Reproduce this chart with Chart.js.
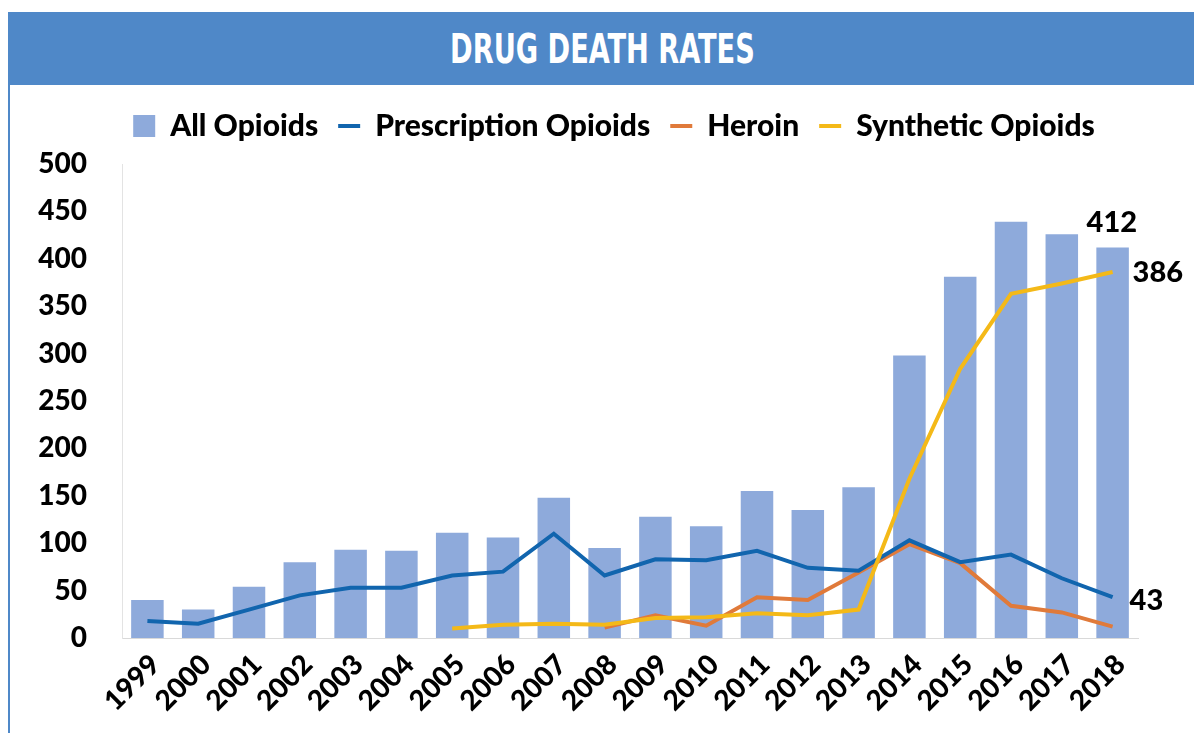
<!DOCTYPE html>
<html>
<head>
<meta charset="utf-8">
<script src="https://cdn.jsdelivr.net/npm/chart.js@4/dist/chart.umd.min.js"></script>
<style>
  html,body{margin:0;padding:0;background:#fff;}
  body{width:1194px;height:733px;position:relative;overflow:hidden;}
  #frame{position:absolute;left:8px;top:12px;right:0;bottom:0;border-left:2px solid #4f88c8;}
  #head{height:73px;background:#4f88c8;display:flex;align-items:center;justify-content:center;}
  #head span{color:#fff;font-family:'DejaVu Sans Condensed','Liberation Sans',sans-serif;font-weight:bold;font-size:41px;display:inline-block;white-space:nowrap;transform-origin:center;}
  #wrap{position:absolute;left:2px;top:73px;right:0;bottom:0;}
</style>
</head>
<body>
<div id="frame">
  <div id="head"><span id="title">DRUG DEATH RATES</span></div>
  <div id="wrap"><canvas id="c"></canvas></div>
</div>
<script>
// values
var years=['1999','2000','2001','2002','2003','2004','2005','2006','2007','2008','2009','2010','2011','2012','2013','2014','2015','2016','2017','2018'];
var allOpioids=[40,30,54,80,93,92,111,106,148,95,128,118,155,135,159,298,381,439,426,412];
var prescription=[18,15,30,45,53,53,66,70,110,66,83,82,92,74,71,103,80,88,63,43];
var heroin=[null,null,null,null,null,null,null,null,null,11,24,13,43,40,69,99,79,34,27,12];
var synthetic=[null,null,null,null,null,null,10,14,15,14,21,22,26,24,30,168,284,363,374,386];
var yTicks=[0,50,100,150,200,250,300,350,400,450,500];

// squeeze the heading into the narrow width it has in the picture
var t=document.getElementById('title');
t.style.transform='scaleX('+(305/t.offsetWidth).toFixed(3)+')';

var font="Lato, 'Open Sans', sans-serif";

// end labels: 412 above last bar, 386 / 43 right of lines
var endLabels={
  id:'endLabels',
  afterDatasetsDraw:function(chart){
    var c=chart.ctx, last=years.length-1;
    c.save();
    c.fillStyle='#000';
    c.font='900 29px '+font;
    c.textBaseline='middle';
    c.textAlign='left';
    var b=chart.getDatasetMeta(0).data[last];
    c.fillText(allOpioids[last],b.x-26,b.y-25);
    var s=chart.getDatasetMeta(3).data[last];
    c.fillText(synthetic[last],s.x+20,s.y+1);
    var p=chart.getDatasetMeta(1).data[last];
    c.fillText(prescription[last],p.x+17,p.y+3);
    c.restore();
  }
};

// empty axes only used to hold space (gap under legend, room for end labels)
function spacer(pos,size){
  return {type:'category',labels:years,position:pos,display:true,grid:{display:false},border:{display:false},ticks:{display:false},
    afterFit:function(s){if(pos==='top')s.height=size;else s.width=size;}};
}

function line(label,data,color,order){
  return {type:'line',label:label,data:data,xAxisID:'x',yAxisID:'y',borderColor:color,backgroundColor:color,borderWidth:4,pointRadius:0,tension:0,pointStyle:'line',order:order};
}

new Chart(document.getElementById('c').getContext('2d'),{
  type:'bar',
  data:{labels:years,datasets:[
    {type:'bar',label:'All Opioids',data:allOpioids,xAxisID:'x',yAxisID:'y',backgroundColor:'#8eaadb',categoryPercentage:1,barPercentage:0.64,pointStyle:'rect',order:4},
    line('Prescription Opioids',prescription,'#1165ae',1),
    line('Heroin',heroin,'#e07a3a',2),
    line('Synthetic Opioids',synthetic,'#f4b918',0)
  ]},
  options:{
    responsive:true,maintainAspectRatio:false,animation:false,
    layout:{padding:{top:6,right:0,bottom:0,left:22}},
    plugins:{
      legend:{position:'top',labels:{usePointStyle:true,pointStyleWidth:22,boxHeight:22,padding:20,color:'#000',
        font:{family:font,size:30,weight:'900'},
        sort:function(a,b){return a.datasetIndex-b.datasetIndex;}}},
      tooltip:{enabled:false}
    },
    scales:{
      x:{grid:{display:false},border:{color:'#d9d9d9'},
        ticks:{color:'#000',font:{family:font,size:28,weight:'900'},maxRotation:45,minRotation:45,padding:2,labelOffset:8,autoSkip:false},
        afterFit:function(s){s.height=95;}},
      y:{min:0,max:500,grid:{display:false},border:{color:'#e3e3e3'},
        afterBuildTicks:function(s){s.ticks=yTicks.map(function(v){return {value:v};});},
        ticks:{color:'#000',font:{family:font,size:28,weight:'900'},padding:27},
        afterFit:function(s){s.width=88;}},
      gapTop:spacer('top',13),
      gapRight:spacer('right',56)
    }
  },
  plugins:[endLabels]
});
</script>
</body>
</html>
